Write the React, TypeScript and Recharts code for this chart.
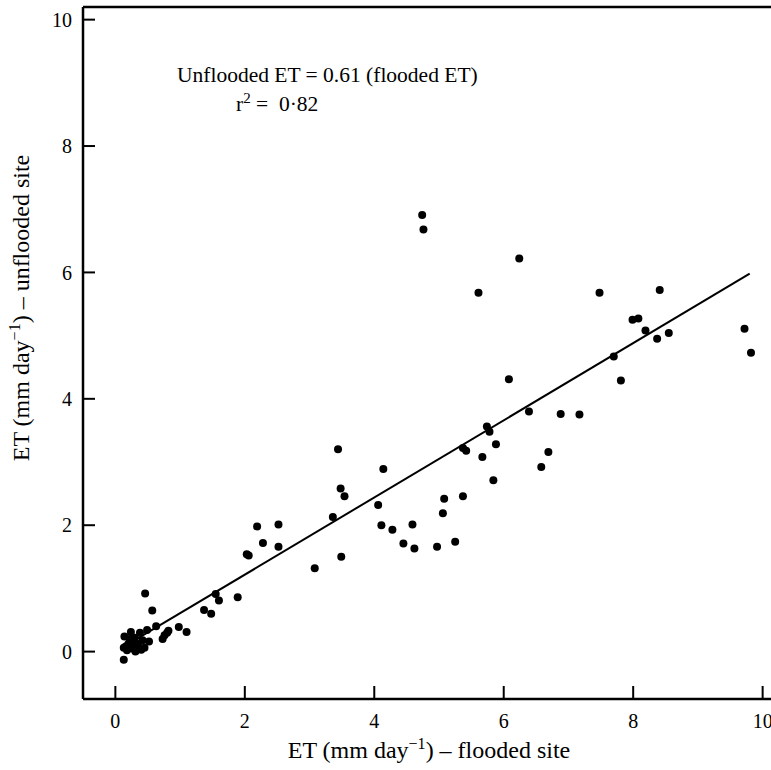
import { ScatterChart, Scatter, XAxis, YAxis, ReferenceLine } from "recharts";

const serif = "Liberation Serif, DejaVu Serif, serif";

// ET at the flooded site (x) and unflooded site (y), mm/day
const floodedET = [
  0.13, 0.13, 0.14, 0.16, 0.18, 0.2, 0.22, 0.24, 0.26, 0.28, 0.3, 0.31, 0.34, 0.35, 0.38, 0.4, 0.42, 0.45,
  0.46, 0.49, 0.52, 0.57, 0.63, 0.73, 0.76, 0.8, 0.82, 0.98, 1.1, 1.37, 1.48, 1.55, 1.6, 1.89,
  2.03, 2.06, 2.19, 2.28, 2.52, 2.52, 3.08, 3.36, 3.44, 3.48, 3.49, 3.54, 4.06, 4.11, 4.14, 4.28,
  4.45, 4.59, 4.62, 4.74, 4.76, 4.97, 5.06, 5.08, 5.25, 5.37, 5.37, 5.42, 5.61, 5.67, 5.74, 5.78,
  5.84, 5.88, 6.08, 6.24, 6.39, 6.58, 6.69, 6.88, 7.17, 7.48, 7.7, 7.81, 7.99, 8.08, 8.19, 8.37,
  8.41, 8.55, 9.72, 9.82,
];
const unfloodedET = [
  -0.13, 0.06, 0.24, 0.08, 0.02, 0.12, 0.2, 0.31, 0.05, 0.15, 0.22, 0.0, 0.04, 0.12, 0.3, 0.03, 0.18, 0.06,
  0.92, 0.34, 0.16, 0.65, 0.4, 0.2, 0.26, 0.3, 0.33, 0.39, 0.31, 0.66, 0.6, 0.91, 0.81, 0.86,
  1.54, 1.52, 1.98, 1.72, 2.01, 1.66, 1.32, 2.13, 3.2, 2.58, 1.5, 2.46, 2.32, 2.0, 2.89, 1.93,
  1.71, 2.01, 1.63, 6.91, 6.68, 1.66, 2.19, 2.42, 1.74, 2.46, 3.22, 3.18, 5.68, 3.08, 3.56, 3.48,
  2.71, 3.28, 4.31, 6.22, 3.8, 2.92, 3.16, 3.76, 3.75, 5.68, 4.67, 4.29, 5.25, 5.27, 5.08, 4.95,
  5.72, 5.04, 5.11, 4.73,
];

// regression line: unflooded = 0.61 * flooded
const fitX = [0.3, 9.8];
const fitY = [0.18, 5.98];

const xTicks = [0, 2, 4, 6, 8, 10];
const yTicks = [0, 2, 4, 6, 8, 10];

const points = floodedET.map((x, i) => ({ x, y: unfloodedET[i] }));
const fitLine = fitX.map((x, i) => ({ x, y: fitY[i] }));

const Dot = (props: any) => <circle cx={props.cx} cy={props.cy} r={4} fill="#000" />;

const tickStyle = { fill: "#000", fontSize: 20, fontFamily: serif, style: { fontFamily: serif } };

export default function App() {
  return (
    <div
      style={{
        position: "absolute",
        left: 0,
        top: 0,
        width: 771,
        height: 770,
        overflow: "hidden",
        background: "#fff",
        fontFamily: serif,
      }}
    >
      <ScatterChart width={800} height={770} margin={{ top: 7, right: 5, left: 0, bottom: 0 }}>
        <XAxis
          type="number"
          dataKey="x"
          domain={[-0.5, 10.5]}
          ticks={xTicks}
          height={71}
          tickSize={-13}
          tickMargin={28}
          axisLine={{ stroke: "#000", strokeWidth: 2.5 }}
          tickLine={{ stroke: "#000", strokeWidth: 2 }}
          tick={tickStyle}
          allowDataOverflow
        />
        <YAxis
          type="number"
          dataKey="y"
          domain={[-0.75, 10.2]}
          ticks={yTicks}
          width={83}
          tickSize={-12}
          tickMargin={23}
          axisLine={{ stroke: "#000", strokeWidth: 2.5 }}
          tickLine={{ stroke: "#000", strokeWidth: 2 }}
          tick={tickStyle}
          allowDataOverflow
        />
        <ReferenceLine y={10.2} stroke="#000" strokeWidth={2.5} />
        <Scatter data={fitLine} line={{ stroke: "#000", strokeWidth: 2 }} shape={() => <g />} isAnimationActive={false} />
        <Scatter data={points} shape={Dot} isAnimationActive={false} />
      </ScatterChart>
      <svg width={771} height={770} style={{ position: "absolute", left: 0, top: 0, pointerEvents: "none", fontFamily: serif }}>
        <g fill="#000">
          <text x={429} y={758} fontSize={24} textAnchor="middle">
            ET (mm day<tspan dy={-9} fontSize={16}>−1</tspan>
            <tspan dy={9}>) – flooded site</tspan>
          </text>
          <text x={0} y={0} fontSize={24} textAnchor="middle" transform="translate(29,308) rotate(-90)">
            ET (mm day<tspan dy={-9} fontSize={16}>−1</tspan>
            <tspan dy={9}>) – unflooded site</tspan>
          </text>
          <text x={177} y={82} fontSize={21.5}>Unflooded ET = 0.61 (flooded ET)</text>
          <text x={236} y={111} fontSize={21.5}>
            r<tspan dy={-8} fontSize={15}>2</tspan>
            <tspan dy={8}>{"\u00a0=\u00a0\u00a0"}0·82</tspan>
          </text>
        </g>
      </svg>
    </div>
  );
}
